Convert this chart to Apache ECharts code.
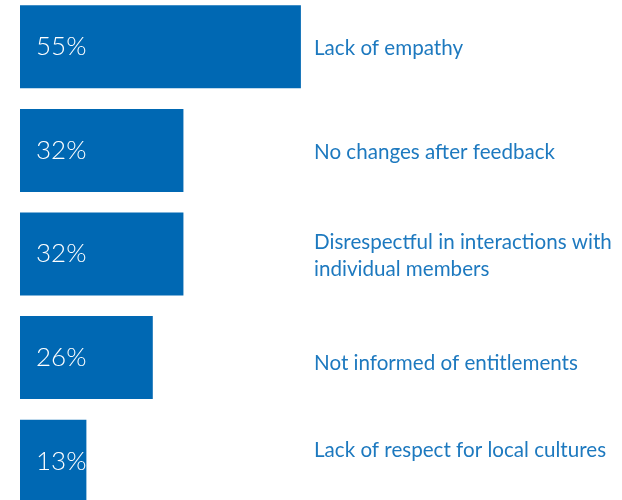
<!DOCTYPE html>
<html>
<head>
<meta charset="utf-8">
<script src="https://cdn.jsdelivr.net/npm/echarts@6/dist/echarts.min.js"></script>
<style>
  html, body { margin: 0; padding: 0; background: #fff; }
  #chart { width: 622px; height: 500px; }
</style>
</head>
<body>
<div id="chart"></div>
<script>
// categories and values
const categories = [
  'Lack of empathy',
  'No changes after feedback',
  'Disrespectful in interactions with\nindividual members',
  'Not informed of entitlements',
  'Lack of respect for local cultures'
]
const values = [55, 32, 32, 26, 13]
// small vertical nudges (px) for the right-hand labels
const labelShift = [2, 2, 2, 6, -11]

const labelColor = '#1d79bf'
const rich = {}
labelShift.forEach((d, i) => {
  rich['s' + i] = {
    color: labelColor,
    fontSize: 20.6,
    lineHeight: 27,
    fontFamily: 'Lato',
    padding: d > 0 ? [d * 2, 0, 0, 0] : [0, 0, -d * 2, 0],
  }
})

const chart = echarts.init(document.getElementById('chart'))
const option = {
  animation: false,
  grid: {
    top: -5,
    bottom: -13,
    left: 20,
    right: 316,
    outerBoundsMode: 'none',
  },
  xAxis: {
    type: 'value',
    min: 0,
    max: 56,
    show: false,
  },
  yAxis: {
    type: 'category',
    inverse: true,
    position: 'right',
    data: categories,
    axisLine: { show: false },
    axisTick: { show: false },
    splitLine: { show: false },
    axisLabel: {
      margin: 8,
      align: 'left',
      formatter: (v, i) => v.split('\n').map(t => '{s' + i + '|' + t + '}').join('\n'),
      rich: rich,
    },
  },
  series: [
    {
      type: 'bar',
      data: values,
      barWidth: 83,
      itemStyle: { color: '#0068b3' },
      label: {
        show: true,
        position: 'insideLeft',
        distance: 16,
        formatter: '{c}%',
        color: '#ffffff',
        fontSize: 26,
        fontWeight: 300,
        fontFamily: 'Lato',
      },
    },
  ],
}
chart.setOption(option)
</script>
</body>
</html>
